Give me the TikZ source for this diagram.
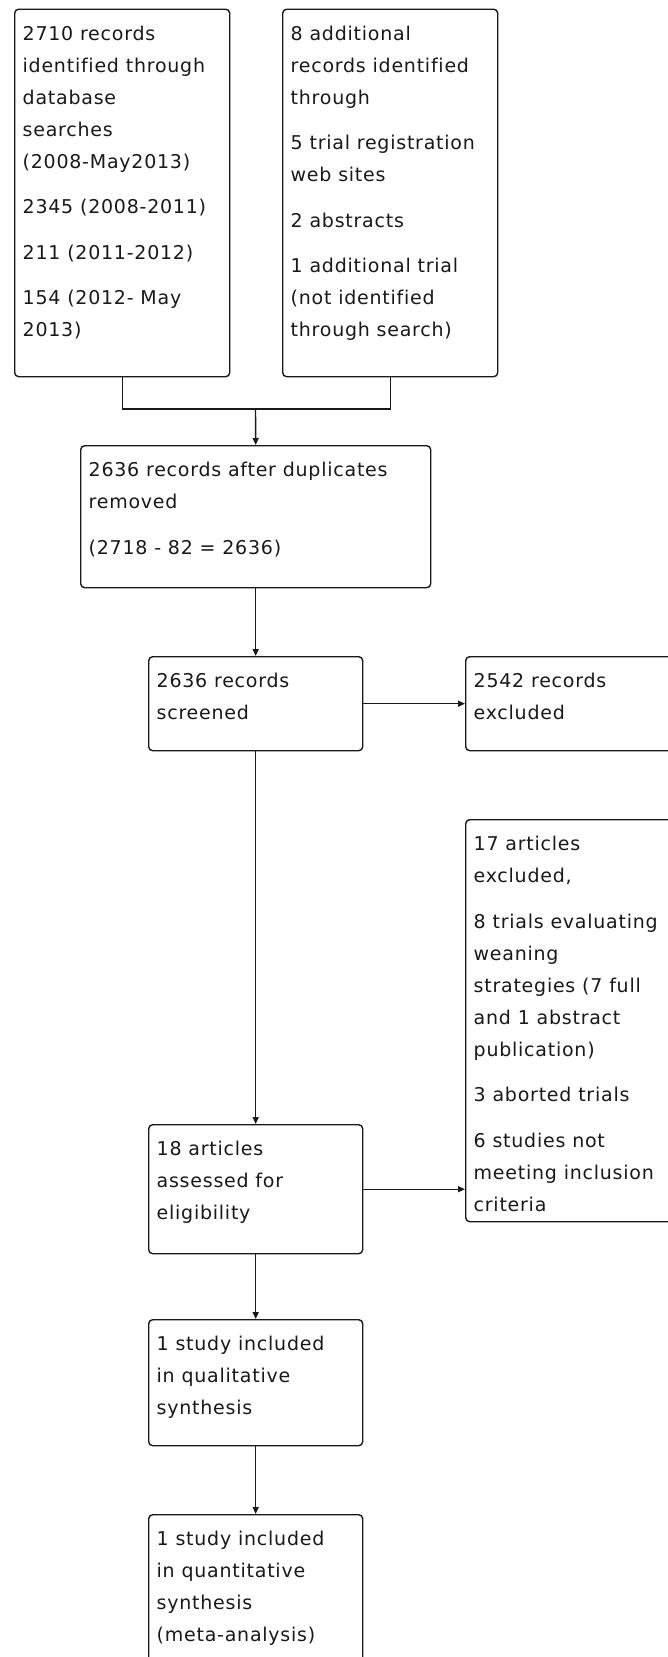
\documentclass[tikz,border=0pt]{standalone}
\usepackage{fontspec}
\setmainfont{DejaVu Sans}[LetterSpace=4,Ligatures=NoCommon]
\usetikzlibrary{arrows.meta}
\newcommand{\bxt}[3]{\parbox[c][#1][t]{#2}{\raggedright\rule{0pt}{31pt}#3}}
\begin{document}
\begin{tikzpicture}[x=1pt,y=-1pt,
  flowbox/.style={draw=black!90, line width=1.4pt, rounded corners=4pt,
    inner xsep=8pt, inner ysep=0pt, anchor=north west,
    font=\fontsize{19}{32}\selectfont, text=black!90},
  arr/.style={draw=black!90, line width=1.4pt, -{Triangle[length=7pt,width=6pt]}},
  conn/.style={draw=black!90, line width=1.4pt}]
\useasboundingbox (0,0) rectangle (668,1657);
\fill[white] (0,0) rectangle (668,1657);
\clip (0,0) rectangle (668,1657);

\node[flowbox] (b1) at (14,8.5) {\bxt{367.5pt}{199pt}{2710 records\\identified through\\database\\searches\\(2008-May2013)\\[13.5pt]2345 (2008-2011)\\[13.5pt]211 (2011-2012)\\[13.5pt]154 (2012- May\\2013)}};
\node[flowbox] (b2) at (282,8.5) {\bxt{367.5pt}{199pt}{8 additional\\records identified\\through\\[13.5pt]5 trial registration\\web sites\\[13.5pt]2 abstracts\\[13.5pt]1 additional trial\\(not identified\\through search)}};
\node[flowbox] (b3) at (80,445) {\bxt{142pt}{334pt}{2636 records after duplicates\\removed\\[13.5pt](2718 - 82 = 2636)}};
\node[flowbox] (b4) at (148,656) {\bxt{94pt}{198pt}{2636 records\\screened}};
\node[flowbox] (b5) at (465,656) {\bxt{94pt}{198pt}{2542 records\\excluded}};
\node[flowbox] (b6) at (465,819) {\bxt{402pt}{198pt}{17 articles\\excluded,\\[13.5pt]8 trials evaluating\\weaning\\strategies (7 full\\and 1 abstract\\publication)\\[13.5pt]3 aborted trials\\[13.5pt]6 studies not\\meeting inclusion\\criteria}};
\node[flowbox] (b7) at (148,1124) {\bxt{129pt}{198pt}{18 articles\\assessed for\\eligibility}};
\node[flowbox] (b8) at (148,1319) {\bxt{126pt}{198pt}{1 study included\\in qualitative\\synthesis}};
\node[flowbox] (b9) at (148,1514) {\bxt{170pt}{198pt}{1 study included\\in quantitative\\synthesis\\(meta-analysis)}};

\coordinate (m) at (255.5,409);
\draw[conn] (b1.south) |- (m) -| (b2.south);
\draw[arr] (m) -- (b3.north);
\draw[arr] (b3.south) -- (b4.north);
\draw[arr] (b4.east) -- (b5.west);
\draw[arr] (b4.south) -- (b7.north);
\draw[arr] (b7.east) -- (b7.east -| b6.west);
\draw[arr] (b7.south) -- (b8.north);
\draw[arr] (b8.south) -- (b9.north);
\end{tikzpicture}
\end{document}
